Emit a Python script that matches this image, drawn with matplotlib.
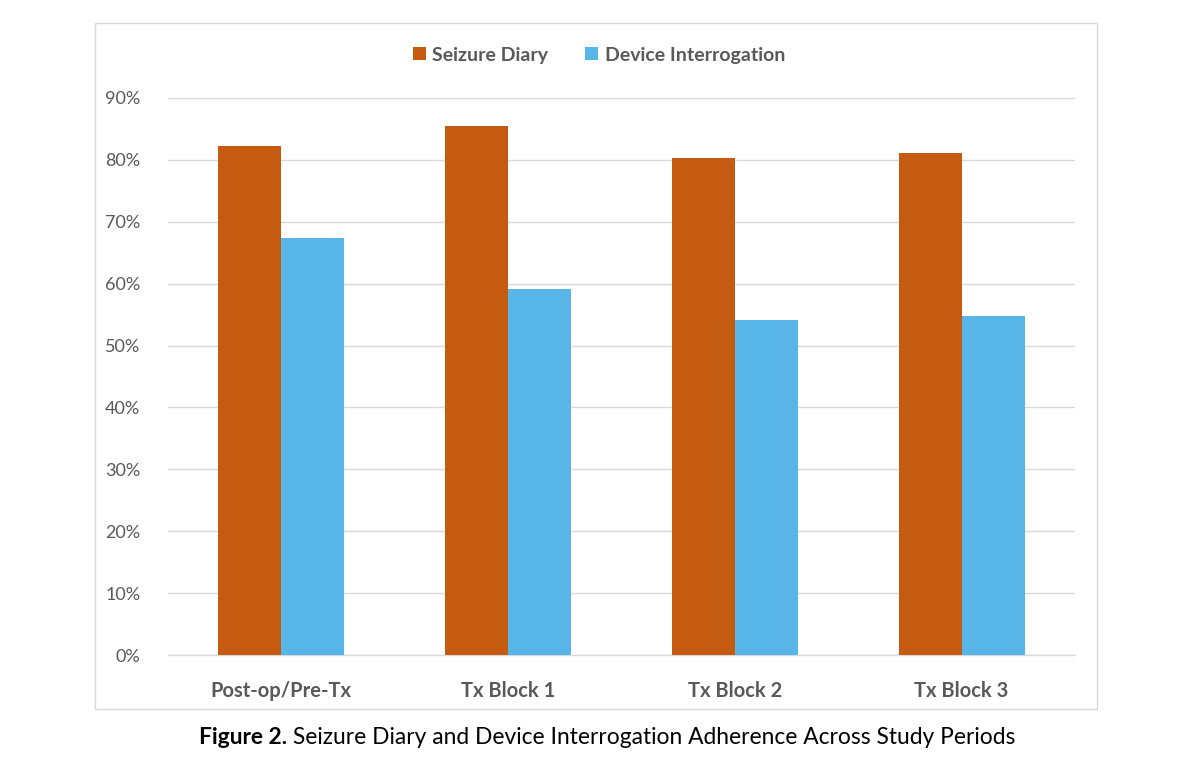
import matplotlib
matplotlib.use("Agg")
import matplotlib.pyplot as plt
from matplotlib.patches import Rectangle
import numpy as np

categories = ["Post-op/Pre-Tx", "Tx Block 1", "Tx Block 2", "Tx Block 3"]
seizure_diary = [82.3, 85.5, 80.3, 81.1]
device_interrogation = [67.3, 59.2, 54.2, 54.7]
yticks = [0, 10, 20, 30, 40, 50, 60, 70, 80, 90]

orange = "#C55A11"
blue = "#57B5E8"
gray_text = "#595959"
font = ["Lato", "DejaVu Sans"]

fig = plt.figure(figsize=(11.9, 7.68), dpi=100)
fig.patch.set_facecolor("white")

# outer chart border
fig.patches.append(Rectangle((95/1190, 1-709/768), (1097-95)/1190, (709-23)/768,
                             transform=fig.transFigure, fill=False,
                             edgecolor="#D9D9D9", linewidth=1.0))

ax = fig.add_axes([168/1190, 1-655/768, (1075-168)/1190, (655-98)/768])
x = np.arange(len(categories))
w = 0.278
ax.bar(x - w/2, seizure_diary, width=w, color=orange, label="Seizure Diary", zorder=3)
ax.bar(x + w/2, device_interrogation, width=w, color=blue, label="Device Interrogation", zorder=3)

ax.set_xlim(-0.5, 3.5)
ax.set_ylim(0, 90)
ax.set_yticks(yticks)
ax.set_yticklabels([f"{v}%" for v in yticks], fontsize=13, color=gray_text, family=font)
ax.set_xticks(x)
ax.set_xticklabels(categories, fontsize=14.5, color=gray_text, fontweight="bold", family=font)
ax.tick_params(axis="both", length=0)
ax.tick_params(axis="y", pad=20)
ax.tick_params(axis="x", pad=19)
ax.grid(axis="y", color="#D9D9D9", linewidth=1.0, zorder=0)
for s in ["top", "right", "left"]:
    ax.spines[s].set_visible(False)
ax.spines["bottom"].set_color("#D9D9D9")
ax.spines["bottom"].set_linewidth(1.0)

leg = fig.legend(loc="center", bbox_to_anchor=(599/1190, 1-55/768), ncol=2, frameon=False,
                 prop={"family": font, "weight": "bold", "size": 14},
                 handlelength=0.65, handleheight=0.65, handletextpad=0.35, columnspacing=1.9)
for t in leg.get_texts():
    t.set_color(gray_text)

# caption: bold "Figure 2." followed by regular text
cap_bold = "Figure 2."
cap_rest = " Seizure Diary and Device Interrogation Adherence Across Study Periods"
cap_size = 16.4
renderer = fig.canvas.get_renderer()
t1 = fig.text(0, 1-737/768, cap_bold, ha="left", va="center", fontsize=cap_size,
              fontweight="bold", color="black", family=font)
t2 = fig.text(0, 1-737/768, cap_rest, ha="left", va="center", fontsize=cap_size,
              color="black", family=font)
w1 = t1.get_window_extent(renderer).width
w2 = t2.get_window_extent(renderer).width
total = w1 + w2
start = 607 - total/2
t1.set_x(start/1190)
t2.set_x((start + w1)/1190)

fig.savefig("out.png", dpi=100, facecolor="white")
